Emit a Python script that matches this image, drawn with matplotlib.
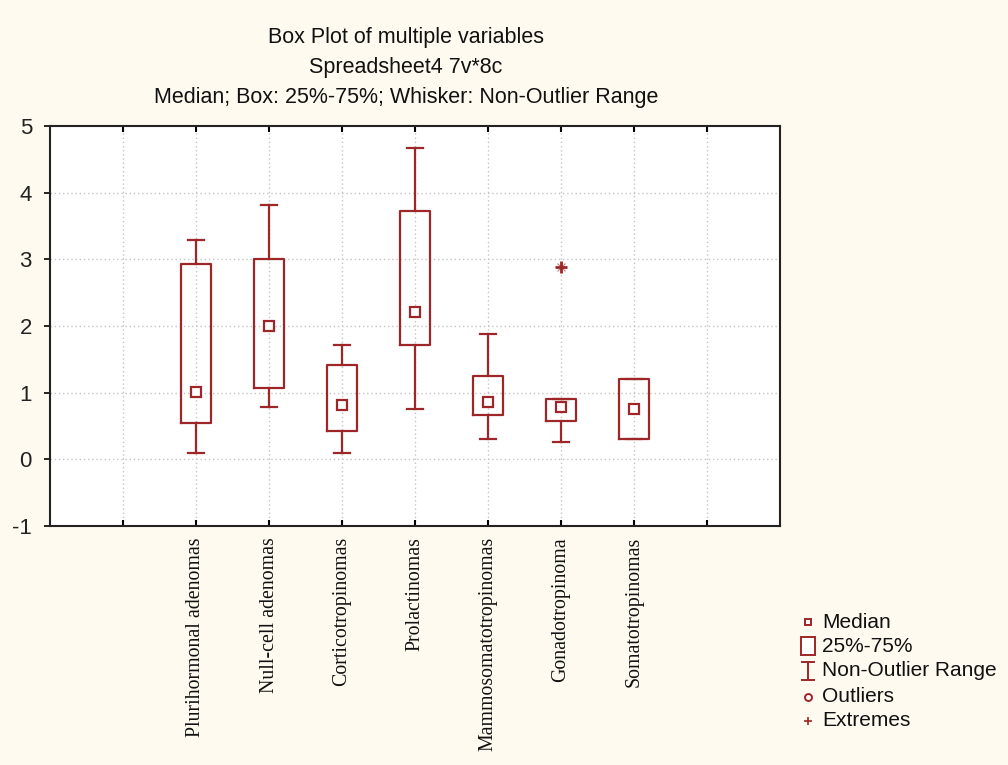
import numpy as np
from matplotlib import pyplot as plt
from matplotlib.lines import Line2D
from matplotlib.patches import Rectangle

# box plot summary per tumour type
categories = ["Plurihormonal adenomas", "Null-cell adenomas", "Corticotropinomas",
              "Prolactinomas", "Mammosomatotropinomas", "Gonadotropinoma",
              "Somatotropinomas"]
whisker_low = [0.10, 0.78, 0.10, 0.76, 0.31, 0.26, 0.31]
q1 = [0.55, 1.07, 0.42, 1.71, 0.66, 0.58, 0.31]
median = [1.01, 2.00, 0.81, 2.21, 0.86, 0.78, 0.76]
q3 = [2.93, 3.00, 1.41, 3.72, 1.25, 0.91, 1.20]
whisker_high = [3.29, 3.82, 1.71, 4.67, 1.88, 0.91, 1.20]
extremes = [[], [], [], [], [], [2.89], []]

legend_labels = ["Median", "25%-75%", "Non-Outlier Range", "Outliers", "Extremes"]

red = "#9e2628"
bg = "#fefaf0"
W, H = 1008, 765

fig = plt.figure(figsize=(W / 100, H / 100), dpi=100, facecolor=bg)
ax = fig.add_axes([50 / W, 1 - 526 / H, 730 / W, 400 / H])
ax.set_facecolor("white")

positions = np.arange(2, 2 + len(categories))
stats = []
for i, name in enumerate(categories):
    stats.append(dict(label=name, whislo=whisker_low[i], q1=q1[i], med=median[i],
                      q3=q3[i], whishi=whisker_high[i], mean=median[i], fliers=[]))

lw = 1.6
ax.bxp(stats, positions=positions, widths=0.4, capwidths=0.22, showmeans=True,
       showfliers=False, manage_ticks=False,
       boxprops=dict(color=red, linewidth=lw),
       whiskerprops=dict(color=red, linewidth=lw),
       capprops=dict(color=red, linewidth=lw),
       medianprops=dict(linewidth=0),
       meanprops=dict(marker="s", markersize=7, markerfacecolor="white",
                      markeredgecolor=red, markeredgewidth=lw))

# extremes drawn as a star-like mark
for pos, vals in zip(positions, extremes):
    if vals:
        ax.plot([pos] * len(vals), vals, linestyle="none", marker="+", markersize=8,
                markeredgewidth=2, color=red, zorder=4)
        ax.plot([pos] * len(vals), vals, linestyle="none", marker="x", markersize=6,
                markeredgewidth=0.8, color=red, alpha=0.6, zorder=4)

ax.set_xlim(0, 10)
ax.set_ylim(-1, 5)

# dotted grid
for gx in range(1, 10):
    ax.axvline(gx, color="#c4c4c4", linestyle=(0, (1, 2)), linewidth=1, zorder=0)
for gy in range(0, 5):
    ax.axhline(gy, color="#c4c4c4", linestyle=(0, (1, 2)), linewidth=1, zorder=0)

ax.set_xticks(range(1, 10))
ax.set_xticklabels([""] + categories + [""], rotation=90, va="top",
                   fontfamily="Liberation Serif", fontsize=14.3, color="#111111")
ax.tick_params(axis="x", direction="in", top=True, length=4, width=1.5, pad=8)
ax.set_yticks(range(-1, 6))
ax.set_yticklabels([str(v) for v in range(-1, 6)], fontfamily="Liberation Sans",
                   fontsize=16, color="#222222")
ax.tick_params(axis="y", direction="out", length=4, width=1.2, pad=9)
for s in ax.spines.values():
    s.set_linewidth(1.5)
    s.set_color("#222222")

title_lines = ["Box Plot of multiple variables", "Spreadsheet4 7v*8c",
               "Median; Box: 25%-75%; Whisker: Non-Outlier Range"]
for k, line in enumerate(title_lines):
    fig.text(406 / W, 1 - (37 + k * 30) / H, line, ha="center", va="center",
             fontfamily="Liberation Sans", fontsize=15.5, color="#111111")

# legend panel
lg = fig.add_axes([795 / W, 1 - 735 / H, 213 / W, 125 / H])
lg.set_xlim(0, 213)
lg.set_ylim(125, 0)
lg.axis("off")
rows = [12, 36, 61, 87, 111]
mx = 13
lg.plot(mx, rows[0], marker="s", markersize=5, markerfacecolor="white",
        markeredgecolor=red, markeredgewidth=1.4)
lg.add_patch(Rectangle((mx - 7, rows[1] - 9), 14, 18, facecolor="white",
                       edgecolor=red, linewidth=1.4))
lg.add_line(Line2D([mx, mx], [rows[2] - 9, rows[2] + 9], color=red, linewidth=1.4))
lg.add_line(Line2D([mx - 6, mx + 6], [rows[2] - 9, rows[2] - 9], color=red, linewidth=1.4))
lg.add_line(Line2D([mx - 6, mx + 6], [rows[2] + 9, rows[2] + 9], color=red, linewidth=1.4))
lg.plot(mx, rows[3], marker="o", markersize=5, markerfacecolor="white",
        markeredgecolor=red, markeredgewidth=1.4)
lg.plot(mx, rows[4], marker="+", markersize=6, markeredgewidth=1.2, color=red)
for y, text in zip(rows, legend_labels):
    lg.text(27, y, text, ha="left", va="center", fontfamily="Liberation Sans",
            fontsize=15, color="#111111")

fig.savefig("out.png", dpi=100, facecolor=bg)
